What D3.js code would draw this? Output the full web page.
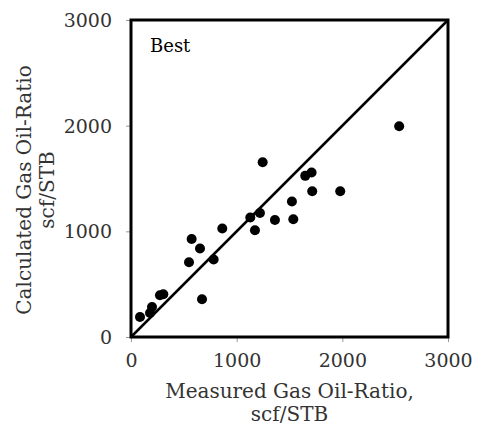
<!DOCTYPE html>
<html lang="en">
<head>
    <meta charset="UTF-8">
    <title>Calculated vs Measured GOR</title>
    <script src="https://d3js.org/d3.v7.min.js"></script>
    <style>
        body { margin: 0; background: #fff; }
        text { font-family: "DejaVu Serif", serif; }
    </style>
</head>
<body>
    <div id="chart"></div>
    <script>
        // measured vs calculated gas oil ratio, scf/STB
        var measured   = [85, 180, 199, 274, 306, 549, 574, 653, 672, 782, 864, 1129, 1173, 1220, 1246, 1362, 1523, 1536, 1649, 1709, 1715, 1980, 2538];
        var calculated = [189, 227, 284, 395, 404, 707, 928, 837, 357, 733, 1026, 1131, 1010, 1174, 1654, 1108, 1282, 1115, 1525, 1557, 1380, 1380, 1995];
        var ticks = [0, 1000, 2000, 3000];
        var label = "Best";

        var width = 477, height = 432;
        var margin = { left: 131, right: 29, top: 20, bottom: 95 };

        var svg = d3.select("#chart").append("svg")
            .attr("width", width)
            .attr("height", height);

        var x = d3.scaleLinear().domain([0, 3000]).range([margin.left, width - margin.right]);
        var y = d3.scaleLinear().domain([0, 3000]).range([height - margin.bottom, margin.top]);

        // axes
        var xAxis = svg.append("g")
            .attr("transform", "translate(0," + y(0) + ")")
            .call(d3.axisBottom(x).tickValues(ticks).tickFormat(d3.format("d")).tickSize(5).tickPadding(12));
        var yAxis = svg.append("g")
            .attr("transform", "translate(" + x(0) + ",0)")
            .call(d3.axisLeft(y).tickValues(ticks).tickFormat(d3.format("d")).tickSize(5).tickPadding(14));

        [xAxis, yAxis].forEach(function (g) {
            g.select(".domain").attr("stroke", "#999");
            g.selectAll(".tick line").attr("stroke", "#999");
            g.selectAll(".tick text")
                .attr("font-family", "DejaVu Serif")
                .attr("font-size", 19)
                .attr("fill", "#333");
        });
        yAxis.selectAll(".tick text").attr("dy", "0.35em");

        // frame
        svg.append("rect")
            .attr("x", x(0)).attr("y", y(3000))
            .attr("width", x(3000) - x(0)).attr("height", y(0) - y(3000))
            .attr("fill", "none").attr("stroke", "#000").attr("stroke-width", 3);

        // 1:1 line
        svg.append("line")
            .attr("x1", x(0)).attr("y1", y(0))
            .attr("x2", x(3000)).attr("y2", y(3000))
            .attr("stroke", "#000").attr("stroke-width", 2.5);

        svg.append("g").selectAll("circle")
            .data(measured)
            .enter().append("circle")
            .attr("cx", function (d) { return x(d); })
            .attr("cy", function (d, i) { return y(calculated[i]); })
            .attr("r", 5)
            .attr("fill", "#000");

        svg.append("text")
            .attr("x", 150).attr("y", 52)
            .attr("font-size", 18)
            .attr("fill", "#000")
            .text(label);

        // axis titles
        var cx = (x(0) + x(3000)) / 2;
        var xt = svg.append("text").attr("text-anchor", "middle").attr("font-size", 20).attr("fill", "#333");
        xt.append("tspan").attr("x", cx).attr("y", 398).text("Measured Gas Oil-Ratio,");
        xt.append("tspan").attr("x", cx).attr("y", 421).text("scf/STB");

        var cy = 190;
        var yt = svg.append("text").attr("text-anchor", "middle").attr("font-size", 20).attr("fill", "#333")
            .attr("transform", "rotate(-90)");
        yt.append("tspan").attr("x", -cy).attr("y", 31).text("Calculated Gas Oil-Ratio");
        yt.append("tspan").attr("x", -cy).attr("y", 54).text("scf/STB");
    </script>
</body>
</html>
